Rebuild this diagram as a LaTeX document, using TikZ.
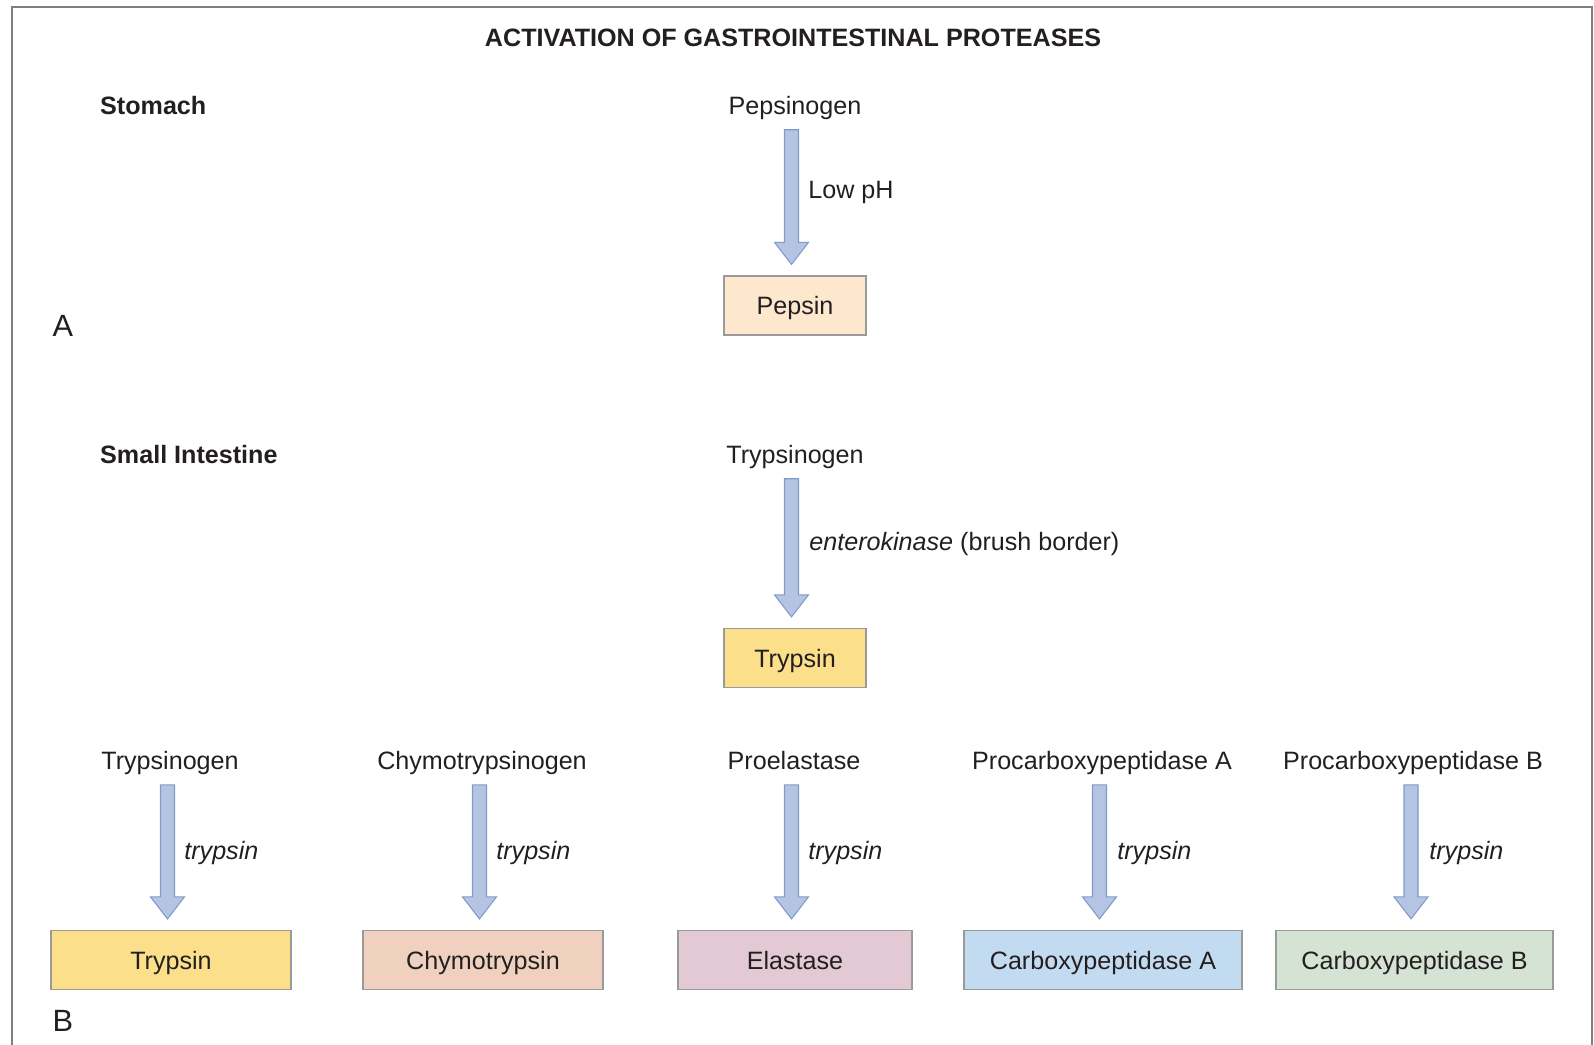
\documentclass[tikz,border=0pt]{standalone}
\usepackage{fontspec}
\setmainfont{Liberation Sans}
\usetikzlibrary{calc}
\definecolor{inkdark}{HTML}{231F20}
\definecolor{framegray}{HTML}{7F7F7F}
\definecolor{boxline}{HTML}{9A9A9A}
\definecolor{arrowfill}{HTML}{B4C4E2}
\definecolor{arrowline}{HTML}{7F9BC9}
\definecolor{pepsinfill}{HTML}{FDE8CD}
\definecolor{trypsinfill}{HTML}{FBDF8B}
\definecolor{chymofill}{HTML}{F0D1BF}
\definecolor{elastfill}{HTML}{E2C9D3}
\definecolor{carbAfill}{HTML}{C3DBF1}
\definecolor{carbBfill}{HTML}{D5E3D4}
\tikzset{
  heading/.style={font=\fontsize{14.3}{17}\selectfont\bfseries},
  partlabel/.style={font=\fontsize{17.5}{20}\selectfont},
  zymogen/.style={inner sep=0pt,text height=10pt,text depth=3pt},
  agent/.style={anchor=west,inner sep=0pt},
  enzyme/.style={draw=boxline,line width=0.7pt,minimum height=1.18cm,inner sep=0pt,
    text height=11.6pt,text depth=1pt},
  blockarrow/.style={draw=arrowline,fill=arrowfill,line width=0.6pt,
    to path={let \p1=(\tikztostart),\p2=(\tikztotarget) in
      (\x2-0.21cm,\y1-0.2cm)--(\x2-0.21cm,\y2+0.66cm)--(\x2-0.41cm,\y2+0.66cm)
      --(\x2-0.07cm,\y2+0.22cm)--(\x2+0.27cm,\y2+0.66cm)--(\x2+0.07cm,\y2+0.66cm)
      --(\x2+0.07cm,\y1-0.2cm)--cycle}}
}
\begin{document}
\begin{tikzpicture}[x=0.02cm,y=-0.02cm,every node/.append style={font=\fontsize{14.3}{17}\selectfont,text=inkdark}]
  \useasboundingbox(0,0)rectangle(1594,1044);
  \draw[framegray,line width=0.05cm](12,1060)--(12,7)--(1592,7)--(1592,1060);
  \node[heading](title)at(793,38){ACTIVATION OF GASTROINTESTINAL PROTEASES};
  % stomach
  \node[heading,anchor=west](stomach)at(94,106){Stomach};
  \node[partlabel](partA)at(63,326){A};
  \node[zymogen](pepsinogen)at(795,108){Pepsinogen};
  \node[enzyme,minimum width=2.84cm,fill=pepsinfill](pepsin)at(795,305.5){Pepsin};
  \node[agent](lowph)at(808,192){Low pH};
  \draw[blockarrow](pepsinogen.south)to(pepsin.north);
  % small intestine
  \node[heading,anchor=west](smallint)at(94,455){Small Intestine};
  \node[zymogen](trypsinogen)at(795,457){Trypsinogen};
  \node[enzyme,minimum width=2.84cm,fill=trypsinfill](trypsin)at(795,658){Trypsin};
  \node[agent](enterokinase)at(809,544){\textit{enterokinase} (brush border)};
  \draw[blockarrow](trypsinogen.south)to(trypsin.north);
  % trypsin cascade
  \node[zymogen](trypsinogenB)at(170,763){Trypsinogen};
  \node[zymogen](chymotrypsinogen)at(482,763){Chymotrypsinogen};
  \node[zymogen](proelastase)at(794,763){Proelastase};
  \node[zymogen](procarbA)at(1102,763){Procarboxypeptidase A};
  \node[zymogen](procarbB)at(1413,763){Procarboxypeptidase B};
  \node[enzyme,minimum width=4.8cm,fill=trypsinfill](trypsinB)at(171,960){Trypsin};
  \node[enzyme,minimum width=4.8cm,fill=chymofill](chymotrypsin)at(483,960){Chymotrypsin};
  \node[enzyme,minimum width=4.68cm,fill=elastfill](elastase)at(795,960){Elastase};
  \node[enzyme,minimum width=5.56cm,fill=carbAfill](carbA)at(1103,960){Carboxypeptidase A};
  \node[enzyme,minimum width=5.54cm,fill=carbBfill](carbB)at(1414.5,960){Carboxypeptidase B};
  \node[agent](byTrypsinA)at(184,853){\textit{trypsin}};
  \node[agent](byTrypsinB)at(496,853){\textit{trypsin}};
  \node[agent](byTrypsinC)at(808,853){\textit{trypsin}};
  \node[agent](byTrypsinD)at(1117,853){\textit{trypsin}};
  \node[agent](byTrypsinE)at(1429,853){\textit{trypsin}};
  \draw[blockarrow](trypsinogenB.south)to(trypsinB.north);
  \draw[blockarrow](chymotrypsinogen.south)to(chymotrypsin.north);
  \draw[blockarrow](proelastase.south)to(elastase.north);
  \draw[blockarrow](procarbA.south)to(carbA.north);
  \draw[blockarrow](procarbB.south)to(carbB.north);
  \node[partlabel](partB)at(63,1021){B};
\end{tikzpicture}
\end{document}
